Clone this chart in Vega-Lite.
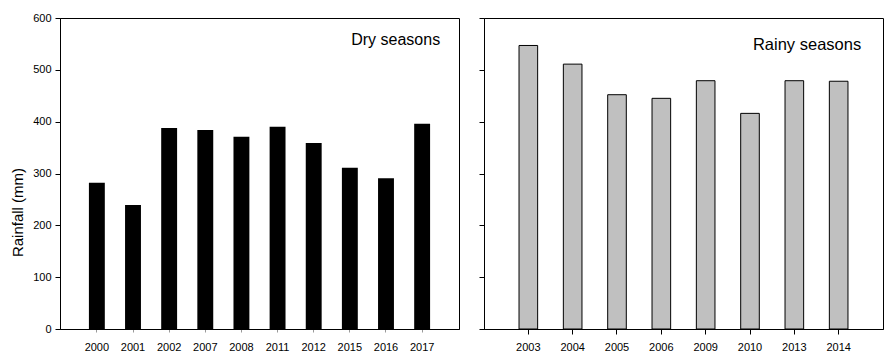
{
  "$schema": "https://vega.github.io/schema/vega-lite/v6.json",
  "padding": {"left": 10, "top": 11, "right": 10, "bottom": 0},
  "background": "white",
  "datasets": {
    "dry": [
      {"year": "2000", "rain": 282},
      {"year": "2001", "rain": 239},
      {"year": "2002", "rain": 388},
      {"year": "2007", "rain": 384},
      {"year": "2008", "rain": 371},
      {"year": "2011", "rain": 390},
      {"year": "2012", "rain": 359},
      {"year": "2015", "rain": 311},
      {"year": "2016", "rain": 291},
      {"year": "2017", "rain": 396}
    ],
    "rainy": [
      {"year": "2003", "rain": 547},
      {"year": "2004", "rain": 511},
      {"year": "2005", "rain": 452},
      {"year": "2006", "rain": 445},
      {"year": "2009", "rain": 479},
      {"year": "2010", "rain": 416},
      {"year": "2013", "rain": 479},
      {"year": "2014", "rain": 478}
    ]
  },
  "config": {
    "font": "Liberation Sans",
    "view": {"stroke": "black", "strokeWidth": 1},
    "axis": {
      "grid": false,
      "domainColor": "black",
      "tickColor": "black",
      "labelColor": "black",
      "labelFont": "Liberation Sans",
      "labelFontSize": 11,
      "titleFont": "Liberation Sans",
      "titleFontWeight": "normal",
      "titleColor": "black"
    }
  },
  "spacing": 18,
  "hconcat": [
    {
      "width": 399,
      "height": 311,
      "layer": [
        {
          "data": {"name": "dry"},
          "mark": {"type": "bar", "color": "black"},
          "encoding": {
            "x": {
              "field": "year", "type": "ordinal",
              "scale": {"paddingInner": 0.56, "paddingOuter": 0.8},
              "axis": {"title": null, "labelAngle": 0, "tickSize": 3, "labelPadding": 9, "tickColor": "#999999"}
            },
            "y": {
              "field": "rain", "type": "quantitative",
              "scale": {"domain": [0, 600], "nice": false},
              "axis": {"title": "Rainfall  (mm)", "values": [0, 100, 200, 300, 400, 500, 600], "tickSize": 5, "labelPadding": 4, "titlePadding": 7, "titleFontSize": 15, "titleY": 194}
            }
          }
        },
        {
          "data": {"values": [{}]},
          "mark": {"type": "text", "align": "right", "baseline": "alphabetic", "fontSize": 16, "dx": 18, "color": "black"},
          "encoding": {
            "x": {"datum": "2017"},
            "y": {"datum": 548},
            "text": {"value": "Dry seasons"}
          }
        }
      ]
    },
    {
      "width": 399,
      "height": 311,
      "layer": [
        {
          "data": {"name": "rainy"},
          "mark": {"type": "bar", "fill": "#c0c0c0", "stroke": "black", "strokeWidth": 1},
          "encoding": {
            "x": {
              "field": "year", "type": "ordinal",
              "scale": {"paddingInner": 0.58, "paddingOuter": 0.79},
              "axis": {"title": null, "labelAngle": 0, "tickSize": 5, "labelPadding": 7}
            },
            "y": {
              "field": "rain", "type": "quantitative",
              "scale": {"domain": [0, 600], "nice": false},
              "axis": {"title": null, "labels": false, "values": [0, 100, 200, 300, 400, 500, 600], "tickSize": 5}
            }
          }
        },
        {
          "data": {"values": [{}]},
          "mark": {"type": "text", "align": "right", "baseline": "alphabetic", "fontSize": 16.5, "dx": 22.5, "color": "black"},
          "encoding": {
            "x": {"datum": "2014"},
            "y": {"datum": 539},
            "text": {"value": "Rainy seasons"}
          }
        }
      ]
    }
  ]
}
